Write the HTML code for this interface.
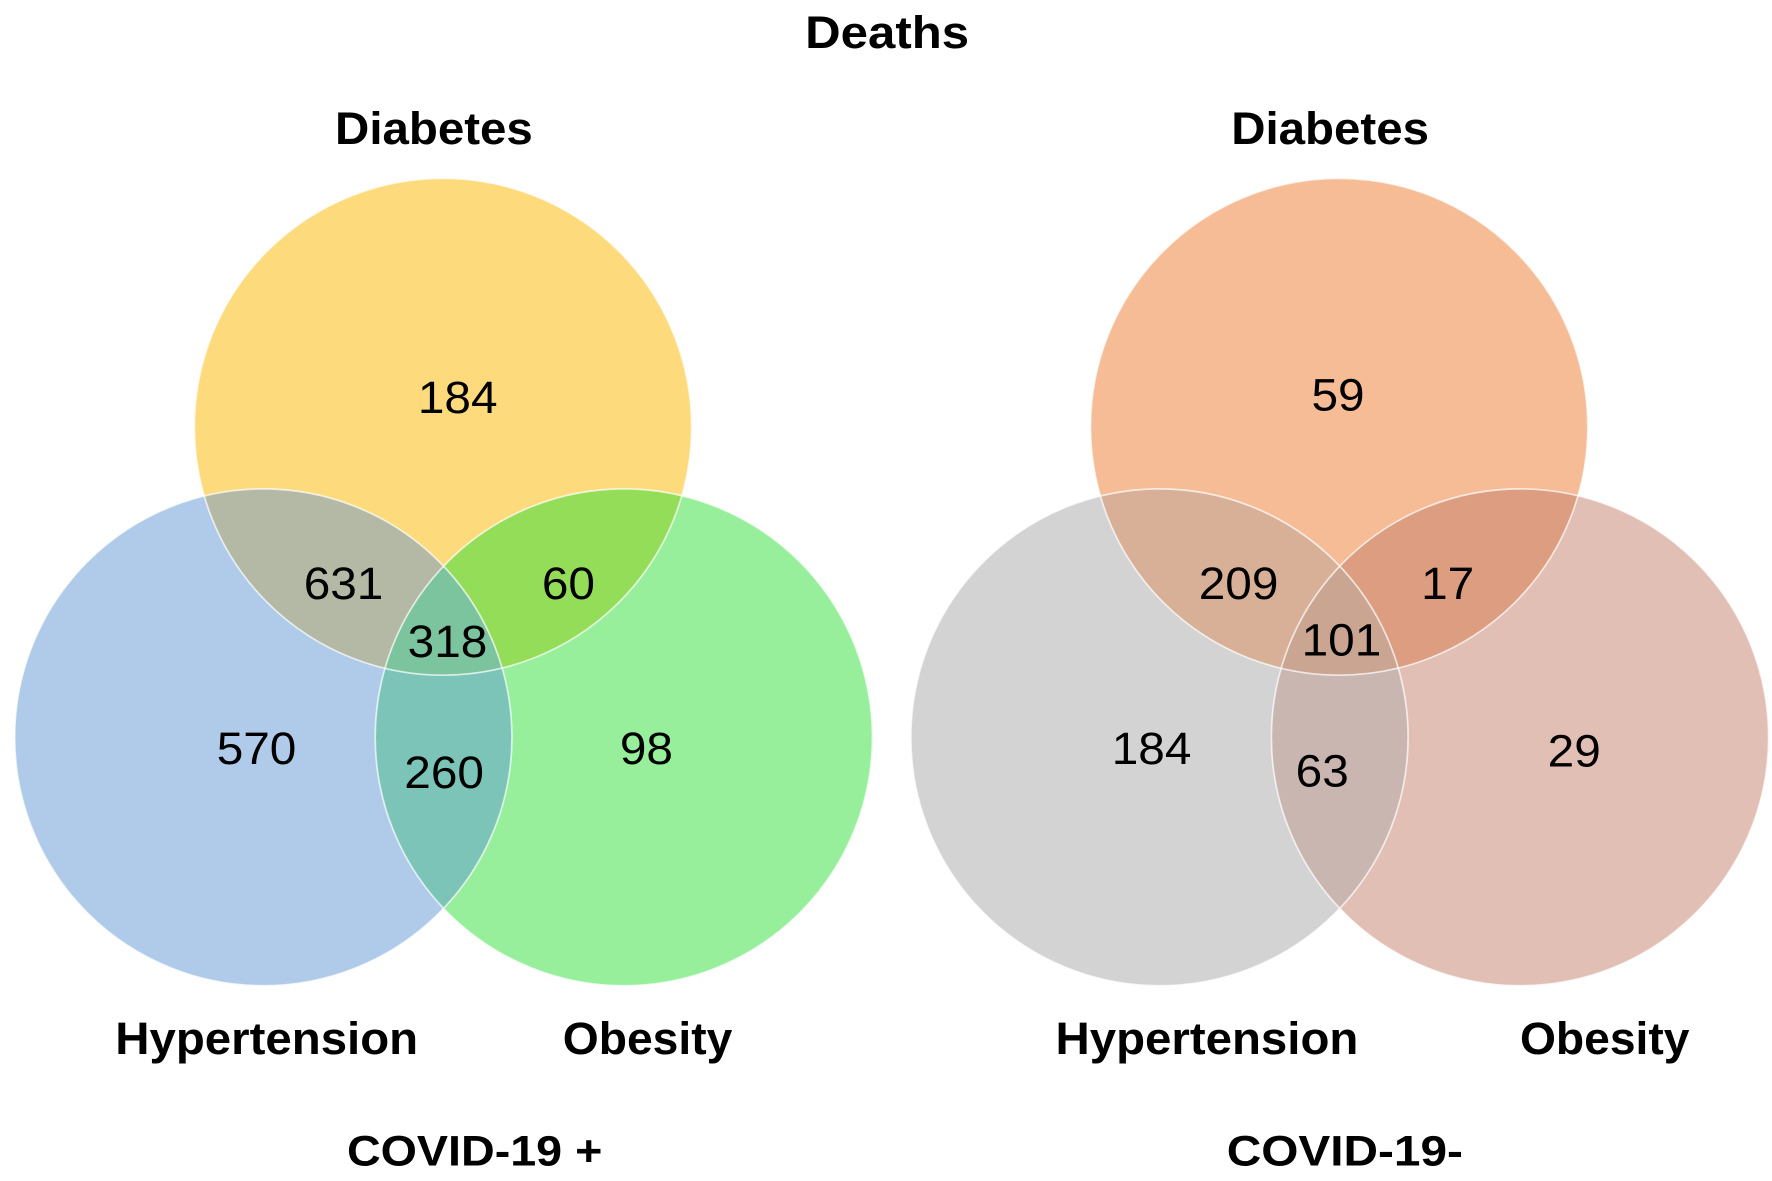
<!DOCTYPE html>
<html><head><meta charset="utf-8"><style>
html,body{margin:0;padding:0;background:#fff;}
svg{display:block;}
text{font-family:"Liberation Sans",sans-serif;fill:#000;}
</style></head><body>
<svg id="chart" width="1772" height="1181" viewBox="0 0 1568 1046" preserveAspectRatio="none" xmlns="http://www.w3.org/2000/svg">
<text x="785" y="29" text-anchor="middle" dominant-baseline="central" font-size="40" font-weight="bold" textLength="145" lengthAdjust="spacingAndGlyphs">Deaths</text>
</svg>
<script>
const setNames = ["Diabetes", "Hypertension", "Obesity"];
const panelTitles = ["COVID-19 +", "COVID-19-"];
const positiveCounts = [184, 570, 98, 631, 60, 260, 318]; // D, H, O, DH, DO, HO, DHO
const negativeCounts = [59, 184, 29, 209, 17, 63, 101];
const positiveColors = ["#fdda7c", "#afcbe9", "#97ef9b", "#b3b9a4", "#94dd58", "#7cc4b8", "#7cc49e"];
const negativeColors = ["#f5bc96", "#d3d3d3", "#e2bfb5", "#d7b097", "#dd9d80", "#c9b6b0", "#c9a592"];

const NS = "http://www.w3.org/2000/svg";
const svg = document.getElementById("chart");
const defs = document.createElementNS(NS, "defs");
svg.appendChild(defs);
const R = 220;
const labelWidths = [175, 268, 150];
const titleWidths = [226, 209];
const countOffsets = [
  [[13, -26], [-165, 285], [180, 285], [-88, 139], [111, 139], [1, 306], [4, 190]],
  [[-1, -28], [-166, 285], [208, 287], [-89, 139], [96, 139], [-15, 305], [2, 189]]
];
const labelOffsets = [
  [[-8, 114], [-156, 920], [181, 920]],
  [[-8, 114], [-117, 920], [235, 920]]
];
const titleX = [420, 1190];
function mk(tag, attrs, parent) { const e = document.createElementNS(NS, tag); for (const k in attrs) e.setAttribute(k, attrs[k]); (parent || svg).appendChild(e); return e; }

function panel(idx, ox, counts, colors) {
  const g = mk("g", {});
  
  
  const centers = [[ox, 378], [ox - 159, 653], [ox + 160, 653]];
  centers.forEach((c, i) => {
    const cp = mk("clipPath", { id: "cp" + idx + "_" + i }, defs);
    mk("circle", { cx: c[0], cy: c[1], r: R }, cp);
  });
  centers.forEach((c, i) => {
    const e = mk("circle", { cx: c[0], cy: c[1], r: R, fill: colors[i] }, g);
    
    
  });
  const pairs = [[0, 1, 3], [0, 2, 4], [1, 2, 5]];
  pairs.forEach(p => {
    const sg = mk("g", { "clip-path": "url(#cp" + idx + "_" + p[0] + ")" }, g);
    const e = mk("circle", { cx: centers[p[1]][0], cy: centers[p[1]][1], r: R, fill: colors[p[2]] }, sg);
    
    
  });
  const g1 = mk("g", { "clip-path": "url(#cp" + idx + "_0)" }, g);
  const g2 = mk("g", { "clip-path": "url(#cp" + idx + "_1)" }, g1);
  const t = mk("circle", { cx: centers[2][0], cy: centers[2][1], r: R, fill: colors[6] }, g2);
  
  
  centers.forEach(c => mk("circle", { cx: c[0], cy: c[1], r: R, fill: "none", stroke: "#fff", "stroke-opacity": "0.7", "stroke-width": 1.5 }, g));
  const off = countOffsets[idx];
  counts.forEach((v, i) => {
    const e = mk("text", { x: ox + off[i][0], y: 378 + off[i][1], "text-anchor": "middle", "dominant-baseline": "central", "font-size": 40, "textLength": String(v).length * 23.5, "lengthAdjust": "spacingAndGlyphs" }, g);
    e.textContent = v;
    
    
  });
  labelOffsets[idx].forEach((l, i) => {
    const e = mk("text", { x: ox + l[0], y: l[1], "text-anchor": "middle", "dominant-baseline": "central", "font-size": 40, "font-weight": "bold", "textLength": labelWidths[i], "lengthAdjust": "spacingAndGlyphs" }, g);
    e.textContent = setNames[i];
    
    
  });
  const pt = mk("text", { x: titleX[idx], y: 1020, "text-anchor": "middle", "dominant-baseline": "central", "font-size": 38, "font-weight": "bold", "textLength": titleWidths[idx], "lengthAdjust": "spacingAndGlyphs" }, g);
  pt.textContent = panelTitles[idx];
  
  
}
panel(0, 392, positiveCounts, positiveColors);
panel(1, 1185, negativeCounts, negativeColors);
</script>
</body></html>
